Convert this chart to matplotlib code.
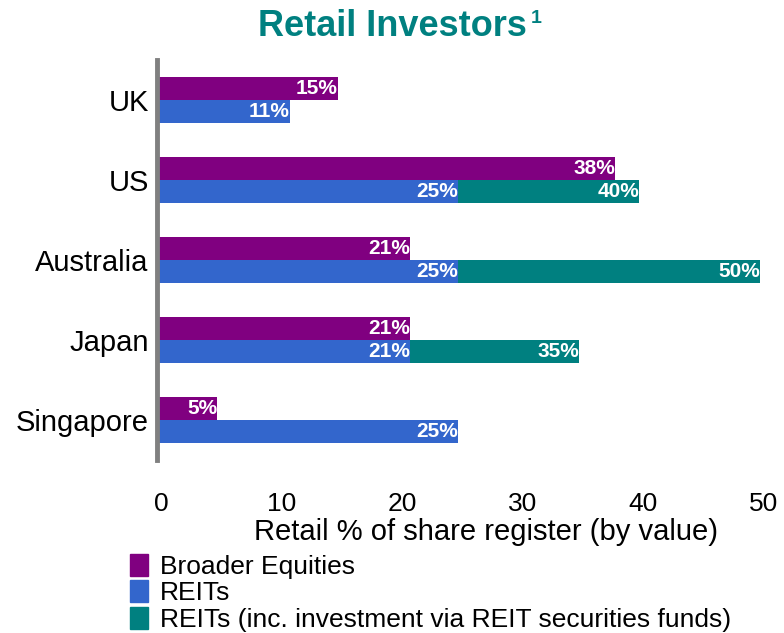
import matplotlib.pyplot as plt
import matplotlib.transforms as mtransforms
from matplotlib.patches import Patch
import numpy as np

plt.rcParams['font.family'] = ['Liberation Sans', 'DejaVu Sans']

# data
countries = ['UK', 'US', 'Australia', 'Japan', 'Singapore']
broader_equities = [15, 38, 21, 21, 5]
reits = [11, 25, 25, 21, 25]
reits_funds = [None, 40, 50, 35, None]

purple = '#800080'
blue = '#3366CC'
teal = '#008080'

fig = plt.figure(figsize=(7.84, 6.33), dpi=100)
ax = fig.add_axes([0.2003, 0.273, 0.7687, 0.632])

pos = np.arange(len(countries))
h = 0.29
lbl = dict(ha='right', va='center', color='white', fontsize=15, fontweight='bold')

# teal bars drawn first, blue REITs sit on top of them
for i, v in enumerate(reits_funds):
    if v is not None:
        ax.barh(pos[i] + h / 2, v, height=h, color=teal)
        ax.text(v, pos[i] + h / 2, f'{v}%', **lbl)

ax.barh(pos - h / 2, broader_equities, height=h, color=purple)
ax.barh(pos + h / 2, reits, height=h, color=blue)

for i in range(len(countries)):
    ax.text(broader_equities[i], pos[i] - h / 2, f'{broader_equities[i]}%', **lbl)
    ax.text(reits[i], pos[i] + h / 2, f'{reits[i]}%', **lbl)

ax.set_xlim(0, 50)
ax.set_ylim(len(countries) - 0.5, -0.5)
ax.set_yticks(pos)
ax.set_yticklabels(countries, fontsize=21)
ax.set_xticks([0, 10, 20, 30, 40, 50])
ax.tick_params(axis='x', labelsize=19, length=0, pad=23)
ax.tick_params(axis='y', length=0, pad=6)

# x tick labels sit a few pixels right of their ticks in the original
shift = mtransforms.ScaledTranslation(4 / 100, 0, fig.dpi_scale_trans)
for t in ax.get_xticklabels():
    t.set_transform(t.get_transform() + shift)

for s in ['top', 'right', 'bottom']:
    ax.spines[s].set_visible(False)
ax.spines['left'].set_color('#808080')
ax.spines['left'].set_linewidth(3.5)

ax.set_xlabel('Retail % of share register (by value)', fontsize=21)
ax.xaxis.set_label_coords(0.546, -0.145)

fig.text(0.5, 0.958, 'Retail Investors', ha='center', va='center',
         color=teal, fontsize=26, fontweight='bold')
fig.text(0.677, 0.970, '1', ha='left', va='center',
         color=teal, fontsize=14, fontweight='bold')

handles = [Patch(color=purple), Patch(color=blue), Patch(color=teal)]
labels = ['Broader Equities', 'REITs',
          'REITs (inc. investment via REIT securities funds)']
fig.legend(handles, labels, loc='upper left', bbox_to_anchor=(0.166, 0.125),
           frameon=False, fontsize=19, handlelength=0.68, handleheight=0.9,
           handletextpad=0.45, labelspacing=0.05, borderpad=0, borderaxespad=0)

fig.savefig('out.png', dpi=100)
